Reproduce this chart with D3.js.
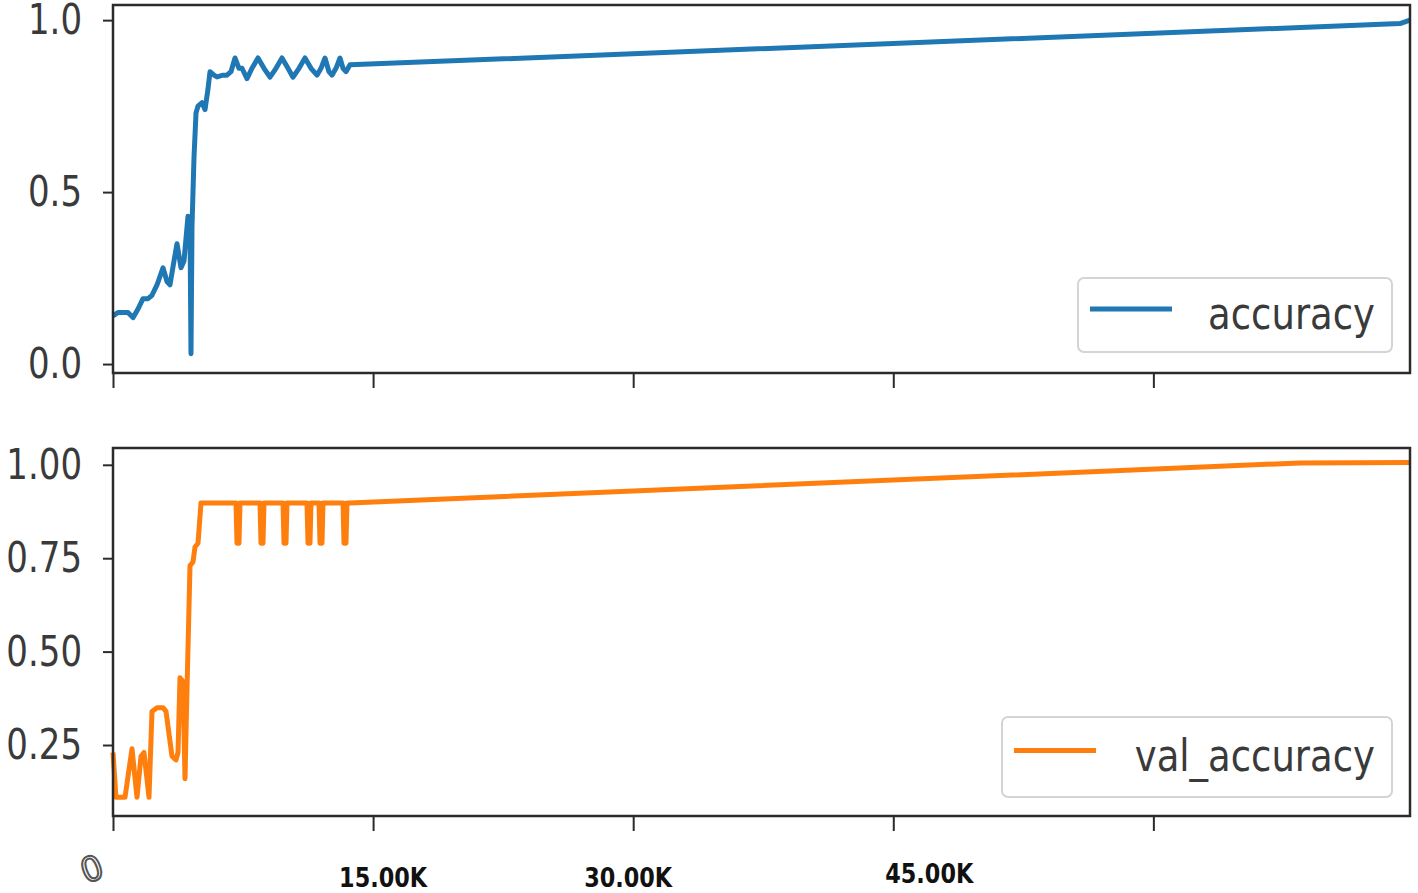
<!DOCTYPE html>
<html>
<head>
<meta charset="utf-8">
<script src="https://cdn.jsdelivr.net/npm/d3@7"></script>
<style>
  body { margin: 0; background: #fff; }
  .spine { fill: none; stroke: #2b2b2b; stroke-width: 2.5; }
  .tick line { stroke: #2b2b2b; stroke-width: 2; }
  .domain { display: none; }
</style>
</head>
<body>
<div id="chart"></div>
<script>
// training steps and values
var accSteps = [0, 288, 634, 865, 1153, 1442, 1730, 2018, 2249, 2537, 2884, 3114, 3287, 3518, 3691,
  3922, 4095, 4325, 4441, 4498, 4556, 4671, 4787, 4902, 5133, 5306, 5479, 5594, 5825, 5998, 6344,
  6574, 6805, 7036, 7266, 7439, 7728, 8016, 8362, 8708, 9054, 9400, 9746, 10092, 10381, 10727,
  11073, 11419, 11765, 11995, 12226, 12456, 12629, 12861, 13091, 13264, 13437, 13668, 74221, 74800];
var accValues = [0.14, 0.15, 0.15, 0.15, 0.135, 0.16, 0.19, 0.19, 0.20, 0.23, 0.28, 0.24, 0.23, 0.30, 0.35,
  0.28, 0.30, 0.43, 0.40, 0.03, 0.40, 0.60, 0.73, 0.75, 0.76, 0.74, 0.80, 0.85, 0.84, 0.835, 0.84,
  0.84, 0.85, 0.89, 0.86, 0.86, 0.83, 0.86, 0.89, 0.86, 0.834, 0.86, 0.89, 0.86, 0.834, 0.86,
  0.89, 0.86, 0.84, 0.86, 0.89, 0.85, 0.84, 0.86, 0.89, 0.86, 0.85, 0.87, 0.99, 1.0];

var valSteps = [0, 173, 692, 1096, 1384, 1615, 1788, 2076, 2249, 2537, 2884, 3057, 3403, 3633, 3749,
  3864, 4037, 4152, 4268, 4441, 4614, 4729, 4902, 5075,
  7094, 7151, 7267, 7324, 8477, 8535, 8650, 8708, 9804, 9862, 9977, 10035,
  11188, 11246, 11361, 11419, 11880, 11938, 12053, 12111, 13264, 13322, 13437, 13495,
  13668, 68455, 74800];
var valValues = [0.23, 0.11, 0.11, 0.24, 0.11, 0.22, 0.23, 0.11, 0.34, 0.35, 0.35, 0.34, 0.22, 0.21, 0.23,
  0.43, 0.42, 0.16, 0.40, 0.73, 0.74, 0.78, 0.79, 0.898,
  0.898, 0.79, 0.79, 0.898, 0.898, 0.79, 0.79, 0.898, 0.898, 0.79, 0.79, 0.898,
  0.898, 0.79, 0.79, 0.898, 0.898, 0.79, 0.79, 0.898, 0.898, 0.79, 0.79, 0.898,
  0.898, 1.005, 1.006];

var xTicks = [0, 15000, 30000, 45000, 60000];
var xLabels = ["15.00K", "30.00K", "45.00K"];
var xLabelSteps = [15000, 30000, 45000];
var topTicks = [0, 0.5, 1.0];
var bottomTicks = [0.25, 0.5, 0.75, 1.0];

var W = 1418, H = 893;
var left = 113, right = 1410;

var svg = d3.select("#chart").append("svg")
    .attr("width", W)
    .attr("height", H);

var x = d3.scaleLinear().domain([0, 74800]).range([left, right]);

var yTop = d3.scaleLinear().domain([-0.026, 1.044]).range([373, 5]);
var yBot = d3.scaleLinear().domain([0.06, 1.045]).range([816, 448]);

function drawPanel(y, ticks, fmt, steps, values, color, label, legendBox) {
    var g = svg.append("g");

    // y axis
    var ya = g.append("g")
        .attr("transform", "translate(" + left + ",0)")
        .call(d3.axisLeft(y).tickValues(ticks).tickFormat(d3.format(fmt)).tickSize(10).tickPadding(21));
    ya.selectAll("text")
        .attr("transform", "scale(1,1.24)")
        .style("font-family", "DejaVu Sans")
        .style("font-size", "34px")
        .style("fill", "#3a3a3a");

    // x axis ticks only
    g.append("g")
        .attr("transform", "translate(0," + y.range()[0] + ")")
        .call(d3.axisBottom(x).tickValues(xTicks).tickFormat("").tickSize(15));

    // line
    var pts = steps.map(function(s, i) { return [s, values[i]]; });
    var line = d3.line()
        .x(function(d) { return x(d[0]); })
        .y(function(d) { return y(d[1]); });
    g.append("path")
        .datum(pts)
        .attr("d", line)
        .style("fill", "none")
        .style("stroke", color)
        .style("stroke-width", 5)
        .style("stroke-linejoin", "round");

    // frame
    g.append("rect")
        .attr("class", "spine")
        .attr("x", left)
        .attr("y", y.range()[1])
        .attr("width", right - left)
        .attr("height", y.range()[0] - y.range()[1]);

    // legend
    var lg = g.append("g");
    lg.append("rect")
        .attr("x", legendBox.x).attr("y", legendBox.y)
        .attr("width", legendBox.w).attr("height", legendBox.h)
        .attr("rx", 6)
        .style("fill", "#fff")
        .style("stroke", "#d4d4d4")
        .style("stroke-width", 2);
    var cy = legendBox.y + legendBox.h * 0.42;
    lg.append("line")
        .attr("x1", legendBox.x + 12).attr("x2", legendBox.x + 94)
        .attr("y1", cy).attr("y2", cy)
        .style("stroke", color)
        .style("stroke-width", 5);
    lg.append("text")
        .attr("transform", "translate(" + (legendBox.x + legendBox.w - 17) + "," + (cy + 5) + ") scale(1,1.22)")
        .attr("text-anchor", "end")
        .attr("dominant-baseline", "central")
        .style("font-family", "DejaVu Sans")
        .style("font-size", "37px")
        .style("fill", "#3a3a3a")
        .text(label);
}

drawPanel(yTop, topTicks, ".1f", accSteps, accValues, "#1f77b4", "accuracy",
    { x: 1078, y: 278, w: 314, h: 74 });
drawPanel(yBot, bottomTicks, ".2f", valSteps, valValues, "#ff7f0e", "val_accuracy",
    { x: 1002, y: 717, w: 390, h: 80 });

// hand-pasted step labels under the bottom axis
var nudge = [10, -5, 36];
var lift = [0, 0, -4];
svg.selectAll("xlab")
  .data(xLabels)
  .enter()
  .append("text")
    .attr("x", function(d, i) { return x(xLabelSteps[i]) + nudge[i]; })
    .attr("y", function(d, i) { return 887 + lift[i]; })
    .attr("text-anchor", "middle")
    .attr("textLength", 88)
    .attr("lengthAdjust", "spacingAndGlyphs")
    .style("font-family", "'Liberation Sans Narrow', 'DejaVu Sans Condensed', sans-serif")
    .style("font-weight", "bold")
    .style("font-size", "27px")
    .style("fill", "#111")
    .text(function(d) { return d; });

svg.append("text")
    .attr("transform", "translate(" + (x(0) - 17) + ",880) rotate(-20)")
    .attr("text-anchor", "middle")
    .style("font-family", "DejaVu Sans")
    .style("font-size", "34px")
    .style("fill", "#fff")
    .style("stroke", "#555")
    .style("stroke-width", 2)
    .text("0");
</script>
</body>
</html>
